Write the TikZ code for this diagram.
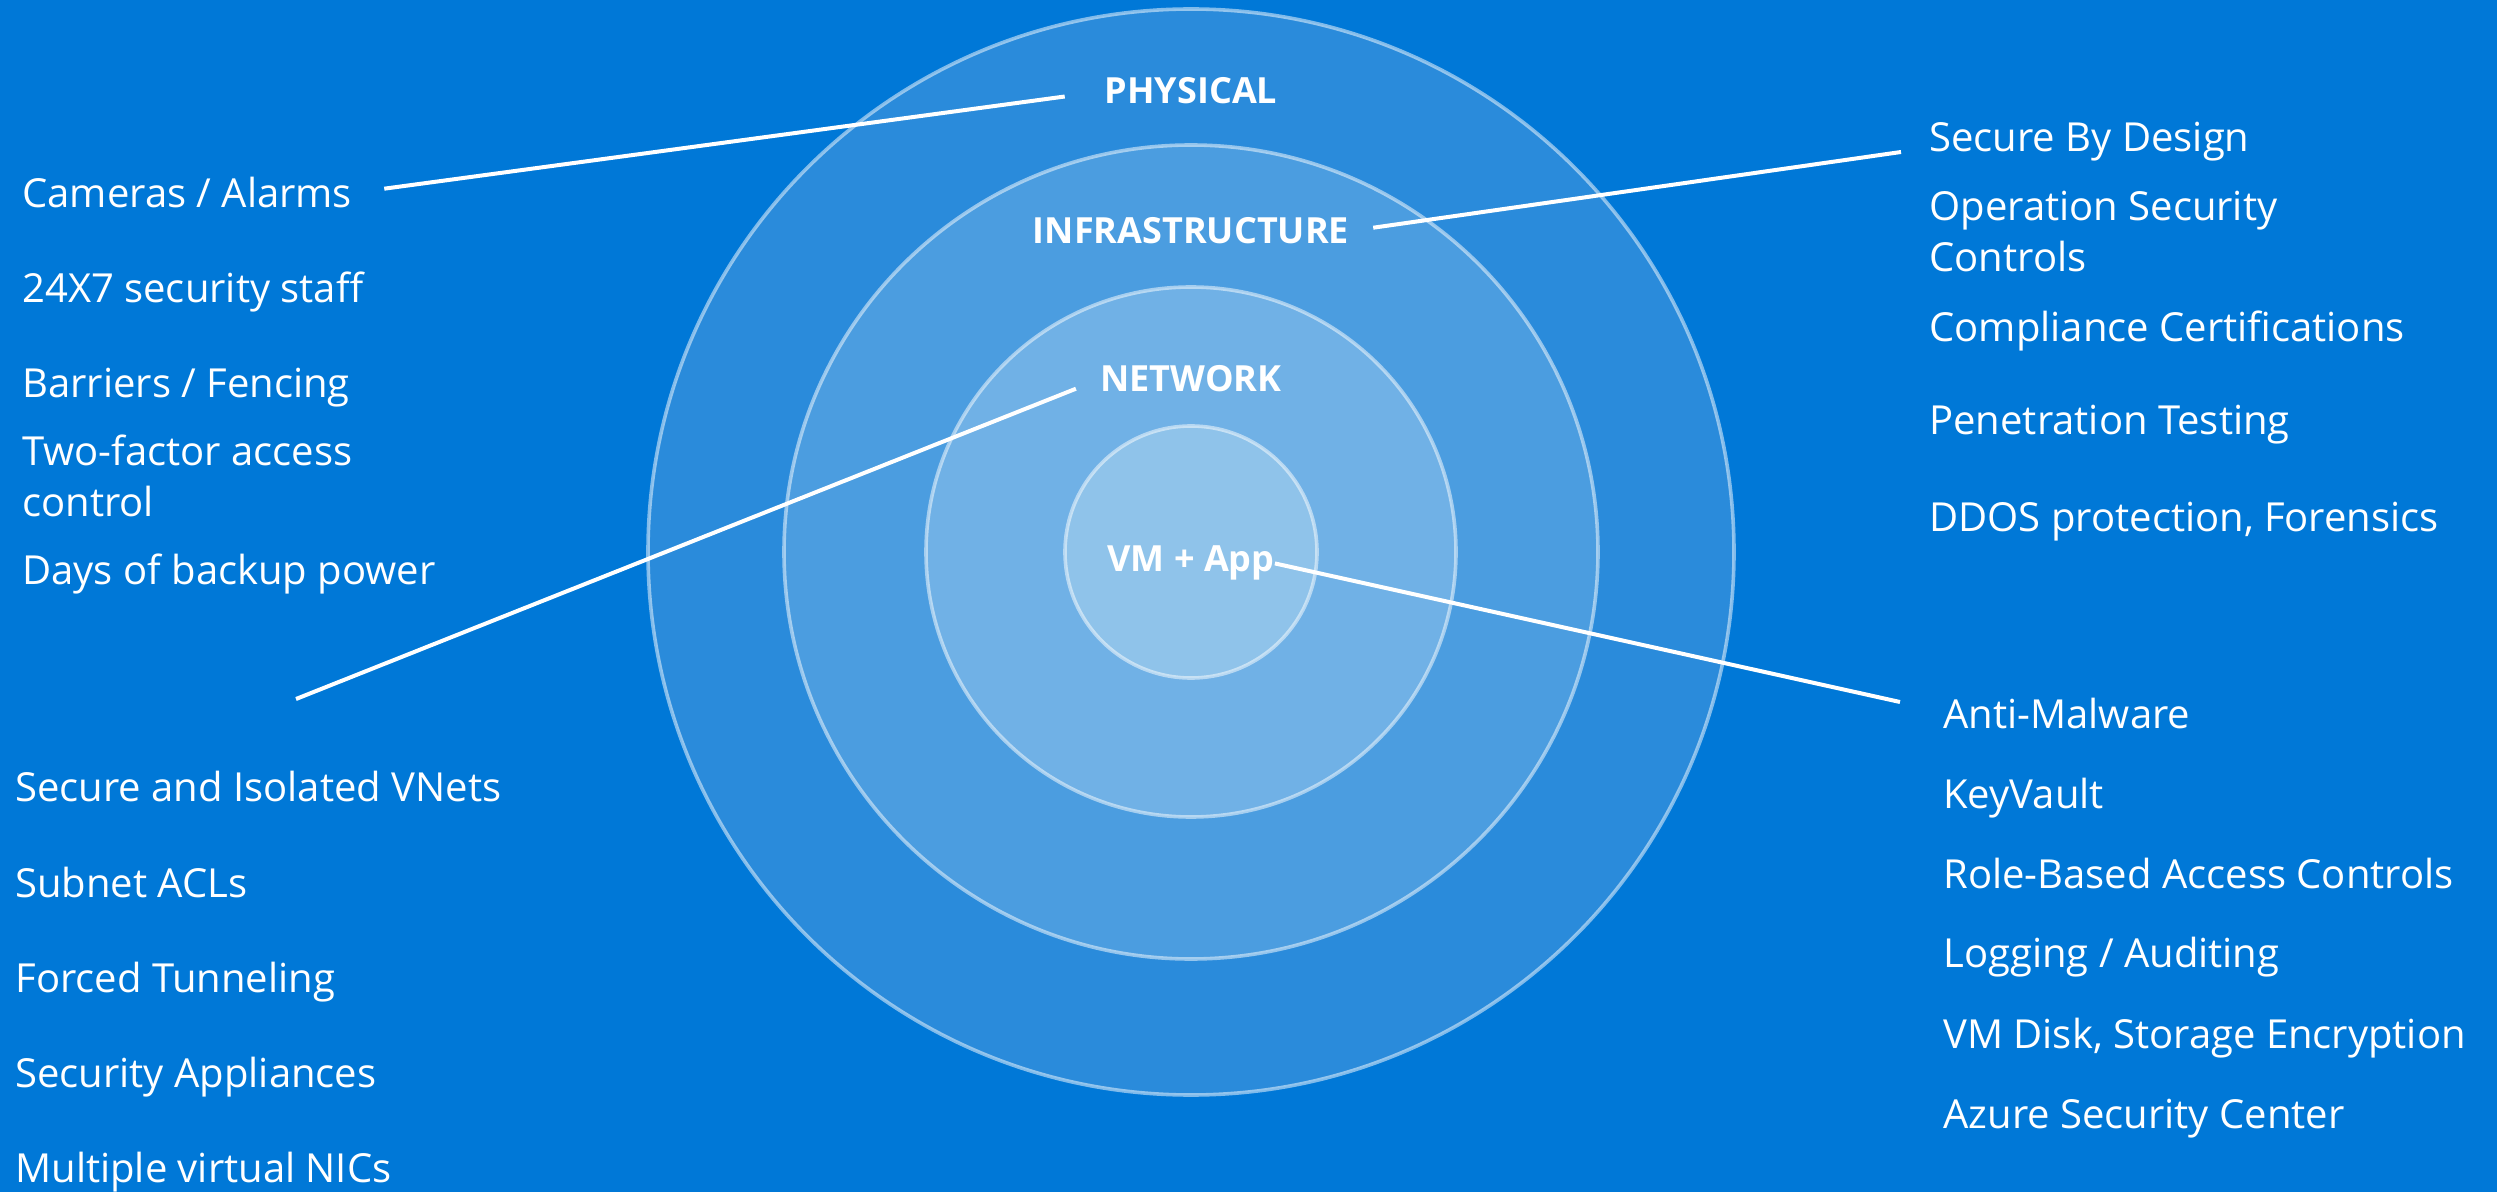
\documentclass[tikz,border=0pt]{standalone}
\usepackage{fontspec}
\setmainfont{Open Sans}
\usepackage{tikz}
\usetikzlibrary{positioning,calc}

\definecolor{azbg}{RGB}{0,120,215}
\definecolor{ringA}{RGB}{42,139,219}
\definecolor{ringB}{RGB}{75,157,224}
\definecolor{ringC}{RGB}{112,177,230}
\definecolor{ringD}{RGB}{143,195,234}

\begin{document}
\begin{tikzpicture}[x=0.5pt,y=-0.5pt,
    ring/.style={draw=white,draw opacity=0.5,line width=1.8pt},
    layer/.style={text=white,font=\fontsize{18}{22}\selectfont\bfseries,inner sep=0pt,anchor=base},
    item/.style={text=white,font=\fontsize{20}{25.5}\selectfont,inner sep=0pt,anchor=base west,align=left},
    leader/.style={draw=white,line width=2pt}]

    % background
    \fill[azbg] (0,0) rectangle (2497,1192);

    % rings
    \draw[ring,fill=ringA] (1191,552) circle[radius=543];
    \draw[ring,fill=ringB] (1191,552) circle[radius=407];
    \draw[ring,fill=ringC] (1191,552) circle[radius=265];
    \draw[ring,fill=ringD] (1191,552) circle[radius=126];

    % layer names
    \node[layer] (phys) at (1191,104) {PHYSICAL};
    \node[layer] (infra) at (1191,244) {INFRASTRUCTURE};
    \node[layer] (net) at (1191,392) {NETWORK};
    \node[layer] (vm) at (1191,572) {VM + App};

    % physical (two-line items sit on their last baseline)
    \node[item] (cam) at (22,208) {Cameras / Alarms};
    \node[item] (staff) at (22,303) {24X7 security staff};
    \node[item] (fence) at (22,398) {Barriers / Fencing};
    \node[item] (twofa) at (22,517) {Two-factor access\\control};
    \node[item] (power) at (22,585) {Days of backup power};

    % infrastructure
    \node[item] (sbd) at (1929,152) {Secure By Design};
    \node[item] (ops) at (1929,272) {Operation Security\\Controls};
    \node[item] (compl) at (1929,342) {Compliance Certifications};
    \node[item] (pen) at (1929,435) {Penetration Testing};
    \node[item] (ddos) at (1929,532) {DDOS protection, Forensics};

    % network
    \node[item] (vnet) at (15,801) {Secure and Isolated VNets};
    \node[item] (acl) at (15,897) {Subnet ACLs};
    \node[item] (tun) at (15,992) {Forced Tunneling};
    \node[item] (appl) at (15,1087) {Security Appliances};
    \node[item] (nic) at (15,1182) {Multiple virtual NICs};

    % vm + app
    \node[item] (mal) at (1943,728) {Anti-Malware};
    \node[item] (kv) at (1943,808) {KeyVault};
    \node[item] (rbac) at (1943,888) {Role-Based Access Controls};
    \node[item] (log) at (1943,967) {Logging / Auditing};
    \node[item] (disk) at (1943,1048) {VM Disk, Storage Encryption};
    \node[item] (asc) at (1943,1128) {Azure Security Center};

    % leader lines
    \coordinate (netEnd) at (296,699);
    \coordinate (vmEnd) at (1900,702);
    \draw[leader,shorten <=16pt,shorten >=20pt] (cam.east) -- (phys.west);
    \draw[leader,shorten <=12pt] (infra.east) -- ([xshift=-14pt]sbd.base west);
    \draw[leader,shorten <=13pt] (net.west) -- (netEnd);
    \draw[leader] (vm.east) -- (vmEnd);

\end{tikzpicture}
\end{document}
